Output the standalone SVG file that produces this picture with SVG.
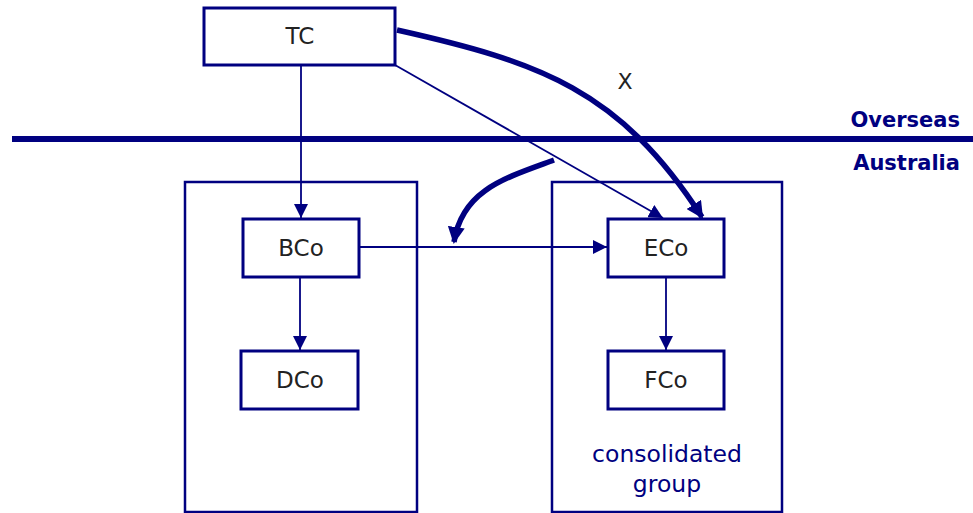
<svg xmlns="http://www.w3.org/2000/svg" width="973" height="513" viewBox="0 0 973 513">
<style>
.box{fill:#fff;stroke:#000080;stroke-width:3}
.grp{fill:none;stroke:#000080;stroke-width:2.5}
.lbl{font-family:"DejaVu Sans","Liberation Sans",sans-serif;font-size:23px;fill:#222;text-anchor:middle}
.thin{fill:none;stroke:#000080;stroke-width:1.8}
.thick{fill:none;stroke:#000080;stroke-width:5.5}
.side{font-family:"DejaVu Sans","Liberation Sans",sans-serif;font-weight:bold;font-size:21px;fill:#000080;text-anchor:end}
.note{font-family:"DejaVu Sans","Liberation Sans",sans-serif;font-size:23.5px;fill:#000080;text-anchor:middle}
</style>
<defs>
<marker id="ah" markerUnits="userSpaceOnUse" markerWidth="14" markerHeight="14" viewBox="0 0 14 14" refX="14" refY="7" orient="auto"><path d="M0,0 L14,7 L0,14 Z" fill="#000080"/></marker>
<marker id="ahb" markerUnits="userSpaceOnUse" markerWidth="17" markerHeight="17" viewBox="0 0 17 17" refX="15" refY="8.5" orient="auto"><path d="M0,0 L17,8.5 L0,17 Z" fill="#000080"/></marker>
</defs>
<rect x="0" y="0" width="973" height="513" fill="#fff"/>
<line x1="12" y1="139" x2="973" y2="139" stroke="#000080" stroke-width="6"/>
<text class="side" x="960" y="127">Overseas</text>
<text class="side" x="960" y="170">Australia</text>
<g id="group-left"><rect class="grp" x="185" y="182" width="232" height="330"/></g>
<g id="group-right"><rect class="grp" x="552" y="182" width="230" height="330"/>
<text class="note" x="667" y="462">consolidated</text>
<text class="note" x="667" y="492">group</text></g>
<g id="connectors">
<line class="thin" x1="301" y1="65" x2="301" y2="218" marker-end="url(#ah)"/>
<line class="thin" x1="300" y1="277" x2="300" y2="350" marker-end="url(#ah)"/>
<line class="thin" x1="666" y1="277" x2="666" y2="350" marker-end="url(#ah)"/>
<line class="thin" x1="359" y1="247" x2="607" y2="247" marker-end="url(#ah)"/>
<line class="thin" x1="395" y1="65" x2="663" y2="218" marker-end="url(#ah)"/>
<path class="thick" d="M397,30 C540,62 620,90 702,217" marker-end="url(#ahb)"/>
<path class="thick" d="M554,160 C505,178 462,190 454,242" marker-end="url(#ahb)"/>
<text x="625" y="89" font-family="'DejaVu Sans','Liberation Sans',sans-serif" font-size="22" fill="#222" text-anchor="middle">X</text>
</g>
<g id="TC"><rect class="box" x="204" y="8" width="191" height="57"/><text class="lbl" x="300" y="44">TC</text></g>
<g id="BCo"><rect class="box" x="243" y="219" width="116" height="58"/><text class="lbl" x="301" y="256">BCo</text></g>
<g id="DCo"><rect class="box" x="241" y="351" width="117" height="58"/><text class="lbl" x="300" y="388">DCo</text></g>
<g id="ECo"><rect class="box" x="608" y="219" width="116" height="58"/><text class="lbl" x="666" y="256">ECo</text></g>
<g id="FCo"><rect class="box" x="608" y="351" width="116" height="58"/><text class="lbl" x="666" y="388">FCo</text></g>
</svg>
